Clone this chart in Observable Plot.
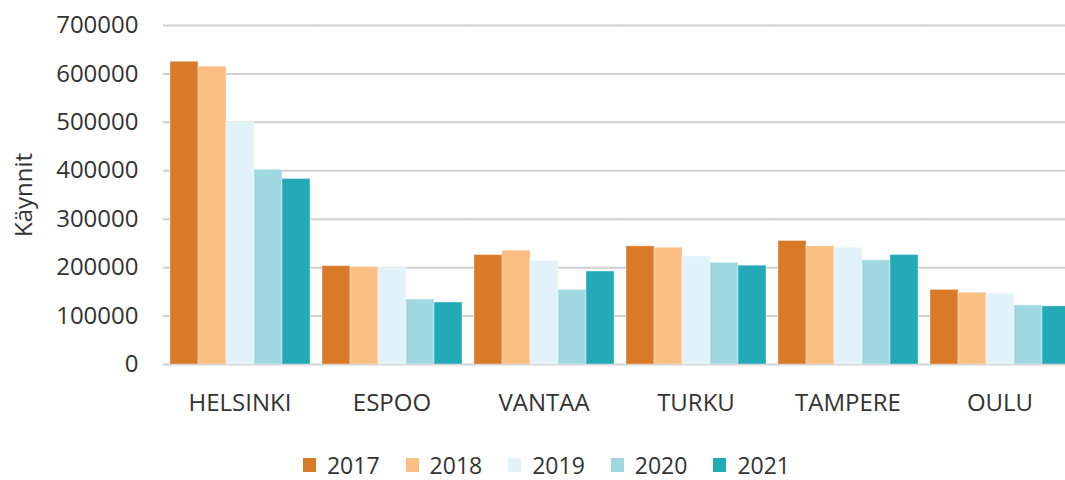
<!DOCTYPE html>
<html>
<head>
<meta charset="utf-8">
<script src="https://cdn.jsdelivr.net/npm/d3@7"></script>
<script src="https://cdn.jsdelivr.net/npm/@observablehq/plot@0.6"></script>
<style>
  html, body { margin: 0; padding: 0; background: #fff; overflow: hidden; }
  #wrap { width: 1065px; height: 430px; overflow: hidden; }
  #wrap svg { max-width: none !important; display: block; }
  #legend { width: 1037px; display: flex; justify-content: center; align-items: center;
            padding-top: 19px; padding-left: 28px; box-sizing: content-box;
            font-family: "Open Sans", sans-serif; font-size: 23px; color: #333; }
  .item { display: flex; align-items: center; margin: 0 13px; }
  .sw { width: 13px; height: 14px; margin-right: 11px; }
</style>
</head>
<body>
<div id="wrap"></div>
<div id="legend"></div>
<script>
const cities = ["HELSINKI", "ESPOO", "VANTAA", "TURKU", "TAMPERE", "OULU"];
const years = ["2017", "2018", "2019", "2020", "2021"];
const v2017 = [625000, 203000, 226000, 244000, 255000, 154000];
const v2018 = [615000, 201000, 235000, 241000, 244000, 148000];
const v2019 = [500000, 200000, 214000, 223000, 241000, 146000];
const v2020 = [402000, 134000, 154000, 210000, 215000, 122000];
const v2021 = [383000, 128000, 192000, 204000, 226000, 120000];
const yTicks = [0, 100000, 200000, 300000, 400000, 500000, 600000, 700000];
const colors = ["#D97A28", "#FBBE83", "#E1F3F8", "#A0D8E2", "#22AAB7"];

const series = [v2017, v2018, v2019, v2020, v2021];
const rows = cities.flatMap((c, i) => years.map((y, j) => ({city: c, year: y, value: series[j][i]})));

const chart = Plot.plot({
  width: 1082,
  height: 430,
  marginLeft: 163,
  marginRight: 7,
  marginTop: 25,
  marginBottom: 66,
  style: {fontFamily: "Open Sans, sans-serif", fontSize: "24px", color: "#333", background: "#fff", maxWidth: "none"},
  fx: {domain: cities, paddingInner: 0.062, paddingOuter: 0.02, label: null, axis: "bottom", tickSize: 0, tickPadding: 29},
  x: {domain: years, padding: 0, axis: null},
  y: {domain: [0, 700000], ticks: yTicks, tickFormat: d => String(d), tickSize: 0, tickPadding: 30,
      label: "Käynnit", labelAnchor: "center", labelOffset: 154, labelArrow: "none"},
  color: {domain: years, range: colors},
  marks: [
    Plot.ruleY(yTicks, {stroke: "#d0d0d0", strokeWidth: 2, insetLeft: -5, insetRight: -5}),
    Plot.barY(rows, {fx: "city", x: "year", y: "value", fill: "year", stroke: "#fff", strokeOpacity: 0.35, strokeWidth: 1})
  ]
});
chart.style.maxWidth = "none";
document.getElementById("wrap").appendChild(chart);

const legend = document.getElementById("legend");
years.forEach((y, j) => {
  const it = document.createElement("div");
  it.className = "item";
  const sw = document.createElement("span");
  sw.className = "sw";
  sw.style.background = colors[j];
  const t = document.createElement("span");
  t.textContent = y;
  it.appendChild(sw);
  it.appendChild(t);
  legend.appendChild(it);
});
</script>
</body>
</html>
